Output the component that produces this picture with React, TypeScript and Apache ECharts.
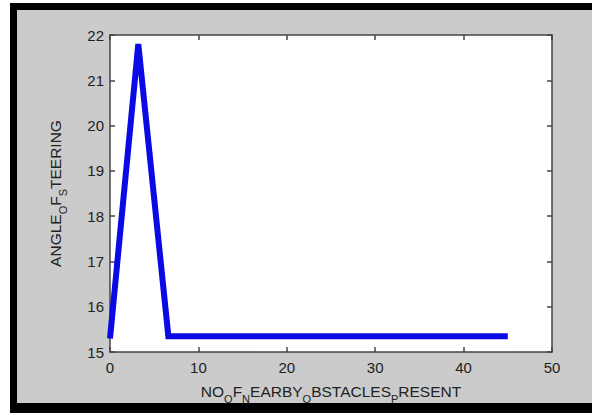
import React, { useEffect, useRef } from "react";
import * as echarts from "echarts";

const xValues = [0, 3.2, 6.6, 45];
const yValues = [15.3, 21.8, 15.35, 15.35];
const xTicks = [0, 10, 20, 30, 40, 50];
const yTicks = [15, 16, 17, 18, 19, 20, 21, 22];

const FONT = "'Liberation Sans', Arial, sans-serif";

export default function App() {
  const ref = useRef<HTMLDivElement>(null);
  useEffect(() => {
    if (!ref.current) return;
    const chart = echarts.init(ref.current, undefined, { renderer: "svg" });
    const rich = {
      m: { fontSize: 15.5, fontFamily: FONT, color: "#222", verticalAlign: "top", lineHeight: 21 },
      s: { fontSize: 11, fontFamily: FONT, color: "#222", verticalAlign: "bottom", lineHeight: 21 },
    };
    const mkTick = () => ({ show: true, inside: true, length: 5, lineStyle: { color: "#444", width: 1.5 } });
    const mkLine = () => ({ show: true, onZero: false, lineStyle: { color: "#444", width: 1.5 } });
    const label = { fontSize: 15, fontFamily: FONT, color: "#222" };
    chart.setOption({
      animation: false,
      backgroundColor: "transparent",
      grid: {
        left: 110,
        top: 35,
        right: 40,
        bottom: 63,
        show: true,
        backgroundColor: "#ffffff",
        borderWidth: 0,
      },
      xAxis: [
        {
          type: "value",
          min: 0,
          max: 50,
          interval: 10,
          name: "{m|NO}{s|O}{m|F}{s|N}{m|EARBY}{s|O}{m|BSTACLES}{s|P}{m|RESENT}",
          nameLocation: "middle",
          nameGap: 31,
          nameTextStyle: { rich },
          axisLine: mkLine(),
          axisTick: mkTick(),
          splitLine: { show: false },
          axisLabel: { ...label, margin: 8, customValues: xTicks },
        },
        {
          type: "value",
          position: "top",
          min: 0,
          max: 50,
          interval: 10,
          axisLine: mkLine(),
          axisTick: mkTick(),
          axisLabel: { show: false },
          splitLine: { show: false },
        },
      ],
      yAxis: [
        {
          type: "value",
          min: 15,
          max: 22,
          interval: 1,
          name: "{m|ANGLE}{s|O}{m|F}{s|S}{m|TEERING}",
          nameLocation: "middle",
          nameRotate: 90,
          nameGap: 42,
          nameTextStyle: { rich },
          axisLine: mkLine(),
          axisTick: mkTick(),
          splitLine: { show: false },
          axisLabel: { ...label, margin: 6, customValues: yTicks },
        },
        {
          type: "value",
          position: "right",
          min: 15,
          max: 22,
          interval: 1,
          axisLine: mkLine(),
          axisTick: mkTick(),
          axisLabel: { show: false },
          splitLine: { show: false },
        },
      ],
      series: [
        {
          type: "line",
          data: xValues.map((x, i) => [x, yValues[i]]),
          showSymbol: false,
          symbol: "none",
          lineStyle: { color: "#0a0ae6", width: 6, join: "miter" },
          clip: true,
        },
      ],
    });
    return () => chart.dispose();
  }, []);
  return (
    <div style={{ position: "fixed", left: 0, top: 0, width: 592, height: 415, background: "#ffffff", overflow: "hidden" }}>
      <div style={{ position: "absolute", left: 10, top: 3, width: 582, height: 410, background: "#000000" }} />
      <div style={{ position: "absolute", left: 17, top: 10, width: 575, height: 393, background: "#cbcbcb" }} />
      <div ref={ref} style={{ position: "absolute", left: 0, top: 0, width: 592, height: 415 }} />
    </div>
  );
}
